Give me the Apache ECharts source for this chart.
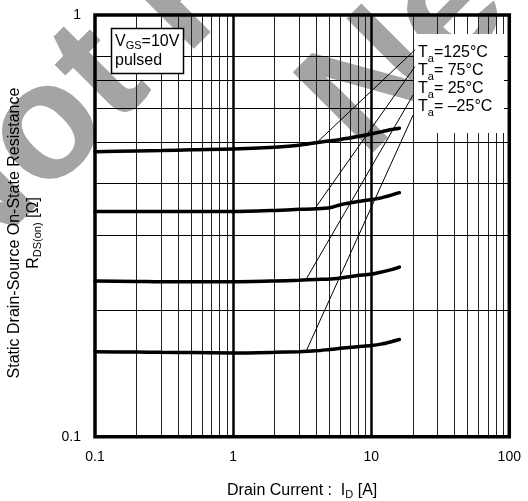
<!DOCTYPE html>
<html><head><meta charset="utf-8">
<script src="https://cdn.jsdelivr.net/npm/echarts@6/dist/echarts.min.js"></script>
<style>html,body{margin:0;padding:0;background:#fff}#c{width:528px;height:501px}</style>
</head><body><div id="c"></div>
<script>
const FONT = '"Liberation Sans", Arial, Helvetica, sans-serif';

// axis ranges
const xRange = [0.1, 100];
const yRange = [0.1, 1];

// grid lines (log decades)
const xMinorGrid = [0.2,0.3,0.4,0.5,0.6,0.7,0.8,0.9, 2,3,4,5,6,7,8,9, 20,30,40,50,60,70,80,90];
const xMajorGrid = [1, 10];
const yGrid = [0.2,0.3,0.4,0.5,0.6,0.7,0.8];

// curves: drain current [A] vs RDS(on) [Ω]
const currentA = [0.1, 0.2, 0.3, 0.5, 1, 2, 3, 4, 5, 6, 8, 10, 12, 14, 16];
const rds125 = [0.474,0.476,0.477,0.479,0.481,0.486,0.491,0.498,0.503,0.507,0.515,0.522,0.529,0.535,0.539];
const rds75  = [0.342,0.342,0.342,0.342,0.342,0.344,0.346,0.347,0.349,0.355,0.361,0.365,0.369,0.374,0.379];
const rds25  = [0.234,0.2335,0.233,0.233,0.233,0.234,0.235,0.236,0.2365,0.238,0.241,0.243,0.246,0.249,0.2525];
const rdsM25 = [0.159,0.1588,0.1585,0.1583,0.158,0.1585,0.159,0.1598,0.161,0.162,0.1635,0.1645,0.166,0.168,0.170];

// leader lines from curve to temperature label
const tempLabels = ['125°C', ' 75°C', ' 25°C', ' \u201325°C'];
const leaderFromA = [4.03, 3.92, 3.41, 3.41];
const leaderFromR = [0.498, 0.348, 0.2375, 0.1605];
const leaderToA = [20.7, 20.7, 20.1, 20.1];
const leaderToR = [0.826, 0.754, 0.646, 0.579];

const curves = [rds125, rds75, rds25, rdsM25];

const gridData = [];
xMinorGrid.forEach(v => gridData.push({coords: [[v, yRange[0]], [v, yRange[1]]], lineStyle: {width: 1, color: '#222'}}));
xMajorGrid.forEach(v => gridData.push({coords: [[v, yRange[0]], [v, yRange[1]]], lineStyle: {width: 2.5, color: '#000'}}));
yGrid.forEach(v => gridData.push({coords: [[xRange[0], v], [xRange[1], v]], lineStyle: {width: 1, color: '#000'}}));

const series = [{
  type: 'lines', coordinateSystem: 'cartesian2d', z: 1, silent: true,
  lineStyle: {opacity: 1}, data: gridData
}];
curves.forEach((c, i) => {
  series.push({
    type: 'line', z: 4, smooth: 0.25, symbol: 'none', silent: true,
    lineStyle: {color: '#000', width: 3.5, cap: 'round'},
    data: currentA.map((x, j) => [x, c[j]])
  });
  series.push({
    type: 'line', z: 3, symbol: 'none', silent: true,
    lineStyle: {color: '#000', width: 1},
    data: [[leaderFromA[i], leaderFromR[i]], [leaderToA[i], leaderToR[i]]]
  });
});

const richMain = {fontSize: 16, fontFamily: FONT, color: '#000', lineHeight: 22, verticalAlign: 'middle'};
const richSub = {fontSize: 11, fontFamily: FONT, color: '#000', lineHeight: 12, verticalAlign: 'bottom'};
const labelY = [53, 71, 89, 107];

const graphic = [
  // watermark
  {type: 'text', x: -73, y: 251, rotation: Math.PI / 4, z: 0, silent: true,
   style: {text: 'Not Recommended', font: 'bold 165px ' + FONT, fill: '#a4a4a4', textAlign: 'left', textVerticalAlign: 'middle'}},
  {type: 'text', x: 333, y: 128, rotation: Math.PI / 4, z: 0, silent: true,
   style: {text: 'New Design', font: 'bold 165px ' + FONT, fill: '#a4a4a4', textAlign: 'left', textVerticalAlign: 'middle'}},
  // white label area
  {type: 'rect', z: 2, silent: true, shape: {x: 414, y: 34, width: 90, height: 99}, style: {fill: '#fff'}},
  // VGS box
  {type: 'rect', z: 5, silent: true, shape: {x: 111.5, y: 28.5, width: 72, height: 45}, style: {fill: '#fff', stroke: '#000', lineWidth: 1.5}},
  {type: 'text', z: 6, silent: true, x: 115, y: 32,
   style: {text: '{m|V}{s|GS}{m|=10V}\n{m|pulsed}', textAlign: 'left', textVerticalAlign: 'top',
     rich: {m: Object.assign({}, richMain, {lineHeight: 19}), s: Object.assign({}, richSub)}}},
  // y title
  {type: 'text', z: 6, silent: true, x: 24, y: 233, rotation: Math.PI / 2,
   style: {text: '{m|Static Drain-Source On-State Resistance}\n{m|R}{s|DS(on)}{m| [Ω]}', textAlign: 'center', textVerticalAlign: 'middle',
     rich: {m: Object.assign({}, richMain, {lineHeight: 19}), s: Object.assign({}, richSub)}}}
];
tempLabels.forEach((t, i) => {
  graphic.push({type: 'text', z: 6, silent: true, x: 418, y: labelY[i],
    style: {text: '{m|T}{s|a}{m|=' + t + '}', textAlign: 'left', textVerticalAlign: 'middle',
      rich: {m: richMain, s: richSub}}});
});

const chart = echarts.init(document.getElementById('c'), null, {renderer: 'canvas'});
chart.setOption({
  animation: false,
  backgroundColor: '#fff',
  grid: {left: 95, right: 18.7, top: 15, bottom: 64.3, show: true, borderColor: '#000', borderWidth: 3.5, backgroundColor: 'transparent', z: 10, containLabel: false, outerBoundsMode: 'none'},
  xAxis: {
    type: 'log', logBase: 10, min: xRange[0], max: xRange[1], z: 6,
    axisLine: {show: false}, axisTick: {show: false}, splitLine: {show: false}, minorSplitLine: {show: false},
    axisLabel: {fontSize: 14, fontFamily: FONT, color: '#000', margin: 13, showMinLabel: true, showMaxLabel: true},
    name: '{m|Drain Current :  I}{s|D}{m| [A]}', nameLocation: 'middle', nameGap: 44,
    nameTextStyle: {rich: {m: Object.assign({}, richMain, {lineHeight: 20}), s: Object.assign({}, richSub)}}
  },
  yAxis: {
    type: 'log', logBase: 10, min: yRange[0], max: yRange[1], z: 6,
    axisLine: {show: false}, axisTick: {show: false}, splitLine: {show: false}, minorSplitLine: {show: false},
    axisLabel: {fontSize: 14, fontFamily: FONT, color: '#000', margin: 14, showMinLabel: true, showMaxLabel: true}
  },
  graphic: graphic,
  series: series
});
</script></body></html>
